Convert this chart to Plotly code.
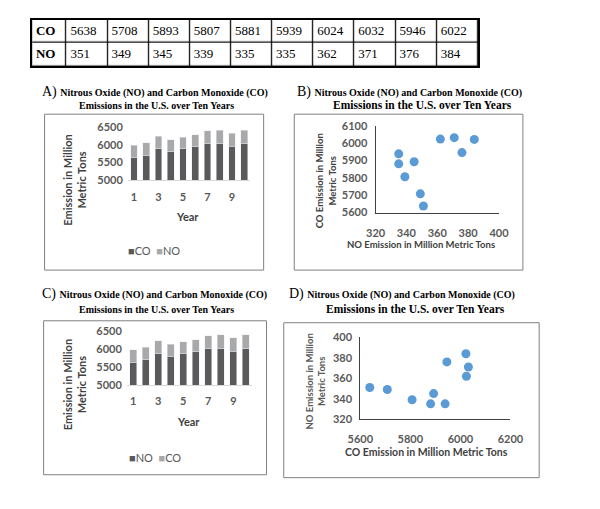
import plotly.graph_objects as go

years = list(range(1, 11))
co = [5638, 5708, 5893, 5807, 5881, 5939, 6024, 6032, 5946, 6022]
no = [351, 349, 345, 339, 335, 335, 362, 371, 376, 384]
row_labels = ['CO', 'NO']

W, H = 600, 509
dark = '#5a5a5a'
light = '#a9a9a9'
blue = '#5b9bd5'
sans = 'Lato'
serif = 'Liberation Serif'


def px(x):
    return x / W


def py(y):
    return 1 - y / H


fig = go.Figure()

# ---- table (cells as a gapped heatmap, text as a text scatter) ----
col_w = [36] + [43] * 10
edges = [0]
for w in col_w:
    edges.append(edges[-1] + w)
ncol = len(col_w)

fig.add_trace(go.Heatmap(x=edges, y=[0, 1, 2], z=[[0] * ncol, [0] * ncol],
                         colorscale=[[0, 'black'], [1, 'black']], showscale=False,
                         hoverinfo='skip', xaxis='x5', yaxis='y5'))
fig.add_trace(go.Heatmap(x=edges, y=[0, 1, 2], z=[[0] * ncol, [0] * ncol],
                         colorscale=[[0, 'white'], [1, 'white']], showscale=False,
                         xgap=1.2, ygap=1.2, hoverinfo='skip',
                         xaxis='x5', yaxis='y5'))
cell_text = (['<b>%s</b>' % row_labels[0]] + [str(v) for v in co]
             + ['<b>%s</b>' % row_labels[1]] + [str(v) for v in no])
fig.add_trace(go.Scatter(x=[e + 4 for e in edges[:-1]] * 2,
                         y=[0.5] * ncol + [1.5] * ncol,
                         text=cell_text, mode='text', textposition='middle right',
                         textfont=dict(family=serif, size=13, color='black'),
                         hoverinfo='skip', showlegend=False,
                         xaxis='x5', yaxis='y5'))

# A) stacked bars, CO dark / NO light
fig.add_trace(go.Bar(x=years, y=co, name='CO', marker_color=dark, width=0.55,
                     xaxis='x', yaxis='y', showlegend=False))
fig.add_trace(go.Bar(x=years, y=no, name='NO', marker_color=light, width=0.55,
                     xaxis='x', yaxis='y', showlegend=False))

# C) same bars, legend swapped
fig.add_trace(go.Bar(x=years, y=co, name='NO', marker_color=dark, width=0.55,
                     xaxis='x3', yaxis='y3', showlegend=False))
fig.add_trace(go.Bar(x=years, y=no, name='CO', marker_color=light, width=0.55,
                     xaxis='x3', yaxis='y3', showlegend=False))

# B) scatter NO vs CO
fig.add_trace(go.Scatter(x=no, y=co, mode='markers', showlegend=False,
                         marker=dict(color=blue, size=9),
                         xaxis='x2', yaxis='y2'))

# D) scatter CO vs NO
fig.add_trace(go.Scatter(x=co, y=no, mode='markers', showlegend=False,
                         marker=dict(color=blue, size=9),
                         xaxis='x4', yaxis='y4'))

tickfont = dict(family=sans, size=11, color='#595959', weight='bold')

bar_x = dict(range=[0.5, 10.5], tickvals=[1, 3, 5, 7, 9], showgrid=False,
             showline=True, linecolor='#d9d9d9', zeroline=False,
             tickfont=tickfont, ticklabelstandoff=6)
bar_y = dict(range=[5000, 6500], dtick=500, showgrid=False, zeroline=False,
             tickfont=tickfont, ticklabelstandoff=4)
sc_axis = dict(showgrid=False, zeroline=False, showline=True,
               linecolor='#404040', linewidth=1, tickfont=tickfont)
tbl_axis = dict(showgrid=False, zeroline=False, showticklabels=False,
                showline=True, mirror=True, linecolor='black', linewidth=1.5)

fig.update_layout(
    width=W, height=H, margin=dict(l=0, r=0, t=0, b=0),
    paper_bgcolor='white', plot_bgcolor='white',
    barmode='stack', bargap=0.45, showlegend=False,
    xaxis=dict(bar_x, domain=[px(120), px(248)], anchor='y'),
    yaxis=dict(bar_y, domain=[py(178), py(123)], anchor='x'),
    xaxis3=dict(bar_x, domain=[px(119), px(250)], anchor='y3'),
    yaxis3=dict(bar_y, domain=[py(388), py(333)], anchor='x3'),
    xaxis2=dict(sc_axis, range=[320, 400], dtick=20, domain=[px(379), px(508)],
                anchor='y2', ticklabelstandoff=10),
    yaxis2=dict(sc_axis, range=[5600, 6100], dtick=100, domain=[py(211), py(122)],
                anchor='x2', ticklabelstandoff=5),
    xaxis4=dict(sc_axis, range=[5600, 6200], dtick=200, domain=[px(363), px(520)],
                anchor='y4', ticklabelstandoff=10),
    yaxis4=dict(sc_axis, range=[320, 400], dtick=20, domain=[py(423), py(339)],
                anchor='x4', ticklabelstandoff=5),
    xaxis5=dict(tbl_axis, range=[0, edges[-1]], domain=[px(20), px(20 + edges[-1])],
                anchor='y5'),
    yaxis5=dict(tbl_axis, range=[2, 0], domain=[py(61), py(13)], anchor='x5'),
)

# panel boxes
for x0, y0, x1, y1 in [(33, 110, 262, 270), (294, 110, 533, 270),
                       (32, 322, 265, 480), (283, 324, 550, 483)]:
    fig.add_shape(type='rect', xref='paper', yref='paper',
                  x0=px(x0), x1=px(x1), y0=py(y0), y1=py(y1),
                  line=dict(color='#808080', width=1))

title1 = ('<span style="font-size:14px;font-weight:normal">%s) </span>'
          '<b>Nitrous Oxide (NO) and Carbon Monoxide (CO)</b>')
title2 = '<b>Emissions in the U.S. over Ten Years</b>'


def ann(text, x, y, size, family=sans, color='#404040', angle=0,
        xanchor='center'):
    fig.add_annotation(text=text, x=px(x), y=py(y), xref='paper', yref='paper',
                       showarrow=False, textangle=angle, xanchor=xanchor,
                       yanchor='middle', font=dict(family=family, size=size,
                                                   color=color))


# titles
for letter, x1, y1, x2, y2, s2 in [('A', 28, 87, 150, 101, 10),
                                   ('B', 295, 87, 428, 101, 11.5),
                                   ('C', 28, 295, 150, 310, 10),
                                   ('D', 286, 295, 421, 310, 11.5)]:
    ann(title1 % letter, x1, y1, 10, family=serif, color='black', xanchor='left')
    ann(title2, x2, y2, s2, family=serif, color='black')


# legends of the bar panels, built from the trace names
def legend_text(names):
    return '  '.join('<span style="color:%s">■</span>%s' % (c, n)
                     for c, n in zip([dark, light], names))


ann(legend_text([fig.data[3].name, fig.data[4].name]), 147, 250, 11,
    color='#595959')
ann(legend_text([fig.data[5].name, fig.data[6].name]), 148, 462, 11,
    color='#595959')

# axis titles
ann('<b>Emission in Million<br>Metric Tons</b>', 64, 178, 11, angle=-90)
ann('<b>Year</b>', 182, 215, 11)
ann('<b>Emission in Million<br>Metric Tons</b>', 64, 388, 11, angle=-90)
ann('<b>Year</b>', 183, 425, 11)
ann('<b>CO Emission in Million<br>Metric Tons</b>', 327, 178, 9.5, angle=-90)
ann('<b>NO Emission in Million Metric Tons</b>', 427, 244, 9.5)
ann('<b>NO Emission in Million<br>Metric Tons</b>', 316, 384, 9.5, angle=-90,
    color='#595959')
ann('<b>CO Emission in Million Metric Tons</b>', 432, 457, 10.5)

fig.write_html("out.html", config={'displayModeBar': False},
               post_script="document.body.style.margin='0px';")
